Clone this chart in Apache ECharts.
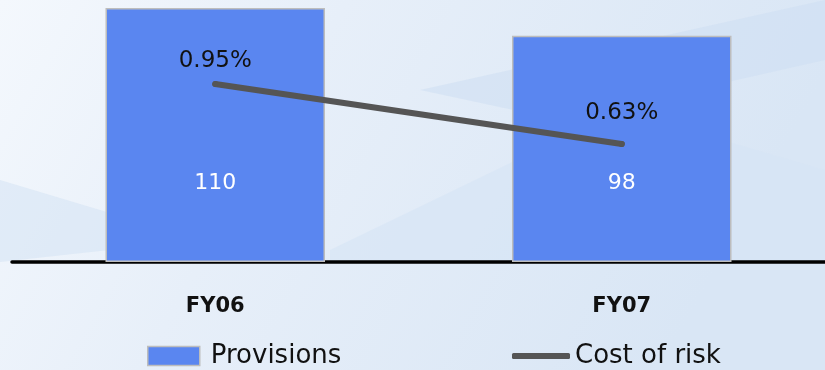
<!DOCTYPE html>
<html>
<head>
<meta charset="utf-8">
<script src="https://cdn.jsdelivr.net/npm/echarts@6/dist/echarts.min.js"></script>
<style>html,body{margin:0;padding:0;}#c{width:825px;height:370px;}</style>
</head>
<body>
<div id="c"></div>
<script>
var categories = ['FY06', 'FY07'];
var provisions = [110, 98];
var costOfRisk = [0.95, 0.63];
var seriesNames = ['Provisions', 'Cost of risk'];

var lineLabelDistance = [9, 16];

var chart = echarts.init(document.getElementById('c'), null, {renderer: 'canvas'});
var option = {
  animation: false,
  backgroundColor: {
    type: 'linear', x: 0, y: 0, x2: 0.8, y2: 1,
    colorStops: [
      {offset: 0, color: '#f4f8fd'},
      {offset: 0.4, color: '#e7eff9'},
      {offset: 1, color: '#d9e6f5'}
    ]
  },
  graphic: [
    {type: 'polygon', z: -10, silent: true,
     shape: {points: [[420, 90], [825, 0], [825, 60], [560, 120]]},
     style: {fill: 'rgba(205,222,242,0.55)'}},
    {type: 'polygon', z: -10, silent: true,
     shape: {points: [[330, 250], [620, 110], [825, 170], [825, 262], [330, 262]]},
     style: {fill: 'rgba(214,228,245,0.6)'}},
    {type: 'polygon', z: -10, silent: true,
     shape: {points: [[0, 180], [200, 240], [0, 262]]},
     style: {fill: 'rgba(210,225,243,0.5)'}}
  ],
  grid: {left: 12, right: 0, top: 8, bottom: 108, containLabel: false},
  legend: [
    {
      data: [{name: seriesNames[0], icon: 'rect'}], left: 147, top: 343, padding: 0,
      itemWidth: 52, itemHeight: 19, itemGap: 0,
      itemStyle: {borderColor: '#bdbdbd', borderWidth: 1.5},
      textStyle: {fontFamily: 'DejaVu Sans', fontSize: 26, color: '#111', padding: [0, 0, 0, 6]},
      selectedMode: false
    },
    {
      data: [{name: seriesNames[1], icon: 'roundRect', itemStyle: {color: '#555555', borderWidth: 0}}],
      left: 512, top: 343, padding: 0,
      itemWidth: 58, itemHeight: 6, itemGap: 0,
      textStyle: {fontFamily: 'DejaVu Sans', fontSize: 26, color: '#111', padding: [0, 0, 0, 0]},
      selectedMode: false
    }
  ],
  xAxis: {
    type: 'category',
    data: categories,
    axisLine: {show: true, lineStyle: {color: '#000', width: 3.5}},
    axisTick: {show: false},
    axisLabel: {fontFamily: 'DejaVu Sans', fontWeight: 'bold', fontSize: 21, color: '#111', margin: 34}
  },
  yAxis: [
    {type: 'value', min: 0, max: 110, show: false},
    {type: 'value', min: 0, max: 1.356, show: false}
  ],
  series: [
    {
      name: seriesNames[0],
      type: 'bar',
      data: provisions,
      barWidth: '54%',
      itemStyle: {color: '#5a86f0', borderColor: '#bdbdbd', borderWidth: 1.5},
      label: {
        show: true, position: 'insideBottom', distance: 68,
        color: '#ffffff', fontFamily: 'DejaVu Sans', fontSize: 22
      }
    },
    {
      name: seriesNames[1],
      type: 'line',
      yAxisIndex: 1,
      data: costOfRisk.map(function (v, i) {
        return {value: v, label: {distance: lineLabelDistance[i]}};
      }),
      symbol: 'circle',
      symbolSize: 6,
      showSymbol: true,
      lineStyle: {color: '#555555', width: 6, cap: 'round'},
      itemStyle: {color: '#555555'},
      label: {
        show: true, position: 'top',
        formatter: function (p) { return p.value.toFixed(2) + '%'; },
        color: '#111', fontFamily: 'DejaVu Sans', fontSize: 23
      },
      z: 5
    }
  ]
};
chart.setOption(option);
</script>
</body>
</html>
